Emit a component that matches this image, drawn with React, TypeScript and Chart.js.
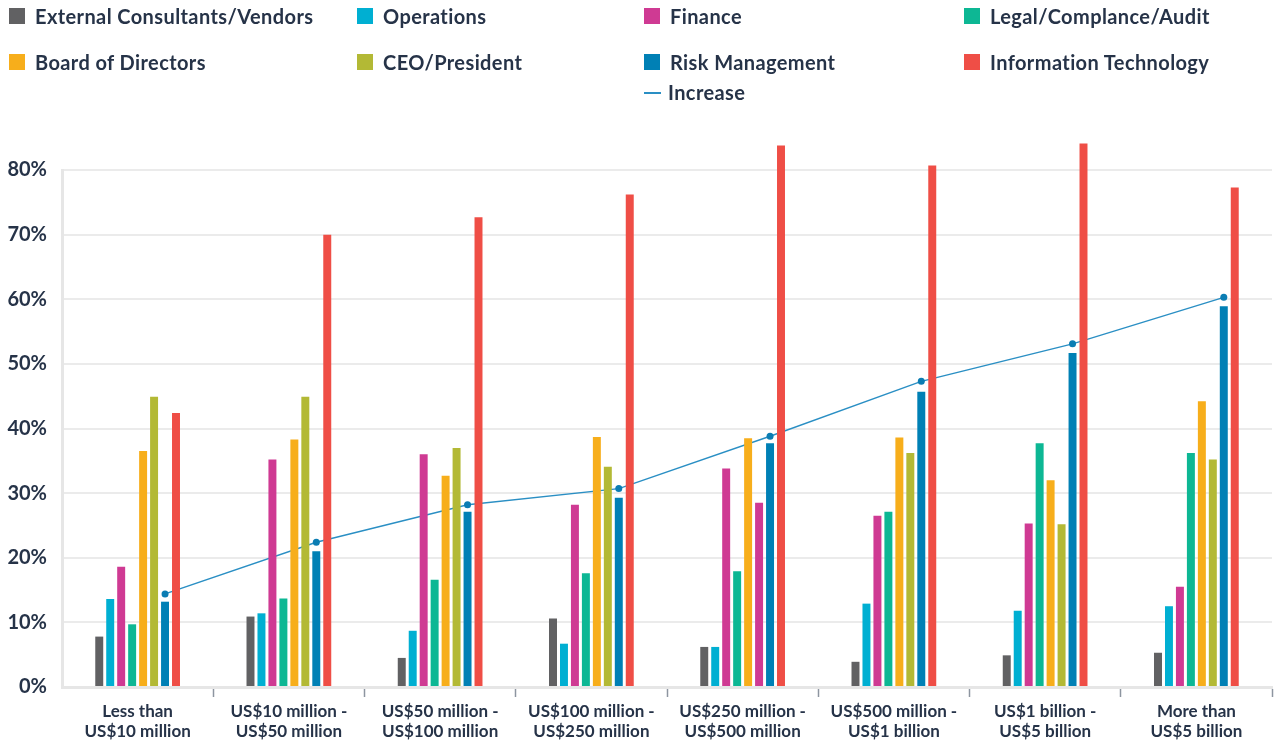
import React, { useEffect, useRef } from "react";
import { Chart, registerables } from "chart.js";

Chart.register(...registerables);

const categories: string[][] = [
  ["Less than", "US$10 million"],
  ["US$10 million -", "US$50 million"],
  ["US$50 million -", "US$100 million"],
  ["US$100 million -", "US$250 million"],
  ["US$250 million -", "US$500 million"],
  ["US$500 million -", "US$1 billion"],
  ["US$1 billion -", "US$5 billion"],
  ["More than", "US$5 billion"],
];

const external = [7.8, 10.9, 4.5, 10.6, 6.2, 3.9, 4.9, 5.3];
const operations = [13.6, 11.4, 8.7, 6.7, 6.2, 12.9, 11.8, 12.5];
const finance = [18.6, 35.2, 36.0, 28.2, 33.8, 26.5, 25.3, 15.5];
const legal = [9.7, 13.7, 16.6, 17.6, 17.9, 27.1, 37.7, 36.2];
const board = [36.5, 38.3, 32.7, 38.7, 38.5, 38.6, 32.0, 44.2];
const ceo = [44.9, 44.9, 37.0, 34.1, 28.5, 36.2, 25.2, 35.2];
const risk = [13.2, 21.0, 27.1, 29.3, 37.7, 45.7, 51.7, 58.9];
const infoTech = [42.4, 70.0, 72.7, 76.2, 83.8, 80.7, 84.1, 77.3];
const increase = [14.4, 22.4, 28.2, 30.7, 38.8, 47.3, 53.1, 60.3];

const yTicks = [0, 10, 20, 30, 40, 50, 60, 70, 80];

const seriesNames = [
  "External Consultants/Vendors",
  "Operations",
  "Finance",
  "Legal/Complance/Audit",
  "Board of Directors",
  "CEO/President",
  "Risk Management",
  "Information Technology",
];
const seriesData = [external, operations, finance, legal, board, ceo, risk, infoTech];
const seriesColors = [
  "#616163",
  "#00afd2",
  "#cf3a93",
  "#0db794",
  "#f7ae1b",
  "#b3b935",
  "#0080b5",
  "#ef4e46",
];
const lineName = "Increase";
const lineColor = "#2a8fc4";
const pointColor = "#0b7db3";

const textColor = "#263348";
const fontFamily = "Lato, 'Open Sans', sans-serif";

const legendCols = [9, 357, 644, 964];
const legendRows = [16, 62];

const alignLinePlugin = {
  id: "alignLine",
  afterDatasetsUpdate(chart: any) {
    const ds = chart.data.datasets;
    const lineIdx = ds.findIndex((d: any) => d.type === "line");
    const riskIdx = ds.findIndex((d: any) => d.label === "Risk Management");
    if (lineIdx < 0 || riskIdx < 0) return;
    const lm = chart.getDatasetMeta(lineIdx);
    const rm = chart.getDatasetMeta(riskIdx);
    lm.data.forEach((pt: any, i: number) => {
      if (rm.data[i]) pt.x = rm.data[i].x;
    });
  },
};

export default function App() {
  const canvasRef = useRef<HTMLCanvasElement | null>(null);

  useEffect(() => {
    if (!canvasRef.current) return;
    const barSets = seriesNames.map((name, i) => ({
      type: "bar" as const,
      label: name,
      data: seriesData[i],
      backgroundColor:
        name === "CEO/President"
          ? (ctx: any) => (ctx.dataIndex === 4 ? seriesColors[2] : seriesColors[i])
          : seriesColors[i],
      borderWidth: 0,
      categoryPercentage: 0.58,
      barPercentage: 0.727,
      clip: false as any,
      order: 0,
    }));
    const chart = new Chart(canvasRef.current, {
      type: "bar",
      data: {
        labels: categories,
        datasets: [
          ...barSets,
          {
            type: "line" as const,
            label: lineName,
            data: increase,
            borderColor: lineColor,
            borderWidth: 1.4,
            pointRadius: 3.5,
            pointBackgroundColor: pointColor,
            pointBorderWidth: 0,
            tension: 0,
            fill: false,
            clip: false as any,
            order: 1,
          } as any,
        ],
      },
      options: {
        responsive: false,
        animation: false,
        layout: { padding: { top: 170, right: 0, left: 0, bottom: 0 } },
        plugins: {
          legend: { display: false },
          tooltip: { enabled: false },
        },
        scales: {
          x: {
            offset: true,
            grid: {
              offset: true,
              drawOnChartArea: false,
              drawTicks: true,
              tickLength: 10,
              tickWidth: 1.5,
              tickColor: (ctx: any) =>
                ctx.index === 0 || ctx.index === categories.length
                  ? "rgba(0,0,0,0)"
                  : "#8d95a0",
            },
            border: { color: "#e6e6e6", width: 3 },
            ticks: {
              color: textColor,
              font: { family: fontFamily, size: 17, weight: "bold", lineHeight: 1.18 },
              padding: 4,
              maxRotation: 0,
              autoSkip: false,
            },
            afterFit: (scale: any) => {
              scale.height = 53;
            },
          },
          y: {
            min: 0,
            max: 80,
            afterBuildTicks: (scale: any) => {
              scale.ticks = yTicks.map((v) => ({ value: v }));
            },
            grid: { color: "#ebebeb", lineWidth: 2, drawTicks: false },
            border: { color: "#e6e6e6", width: 3 },
            ticks: {
              color: textColor,
              font: { family: fontFamily, size: 20, weight: "bold" },
              padding: 15,
              callback: (v: any) => `${v}%`,
            },
            afterFit: (scale: any) => {
              scale.width = 62;
            },
          },
        },
      },
      plugins: [alignLinePlugin],
    });
    return () => chart.destroy();
  }, []);

  const legendText: React.CSSProperties = {
    position: "absolute",
    fontFamily,
    fontWeight: 700,
    fontSize: 20,
    letterSpacing: "0.4px",
    color: textColor,
    whiteSpace: "nowrap",
    lineHeight: "24px",
  };

  return (
    <div
      style={{
        position: "absolute",
        left: 0,
        top: 0,
        width: 1276,
        height: 740,
        background: "#ffffff",
        overflow: "hidden",
      }}
    >
      <canvas ref={canvasRef} width={1276} height={740} style={{ position: "absolute", left: 0, top: 0 }} />
      {seriesNames.map((name, i) => {
        const x = legendCols[i % 4];
        const y = legendRows[Math.floor(i / 4)];
        return (
          <React.Fragment key={name}>
            <div
              style={{
                position: "absolute",
                left: x,
                top: y - 8,
                width: 16,
                height: 16,
                background: seriesColors[i],
              }}
            />
            <div style={{ ...legendText, left: x + 26, top: y - 12 }}>{name}</div>
          </React.Fragment>
        );
      })}
      <div
        style={{
          position: "absolute",
          left: legendCols[2],
          top: 92,
          width: 17,
          height: 2,
          background: lineColor,
        }}
      />
      <div style={{ ...legendText, left: legendCols[2] + 24, top: 92 - 12 }}>{lineName}</div>
    </div>
  );
}
